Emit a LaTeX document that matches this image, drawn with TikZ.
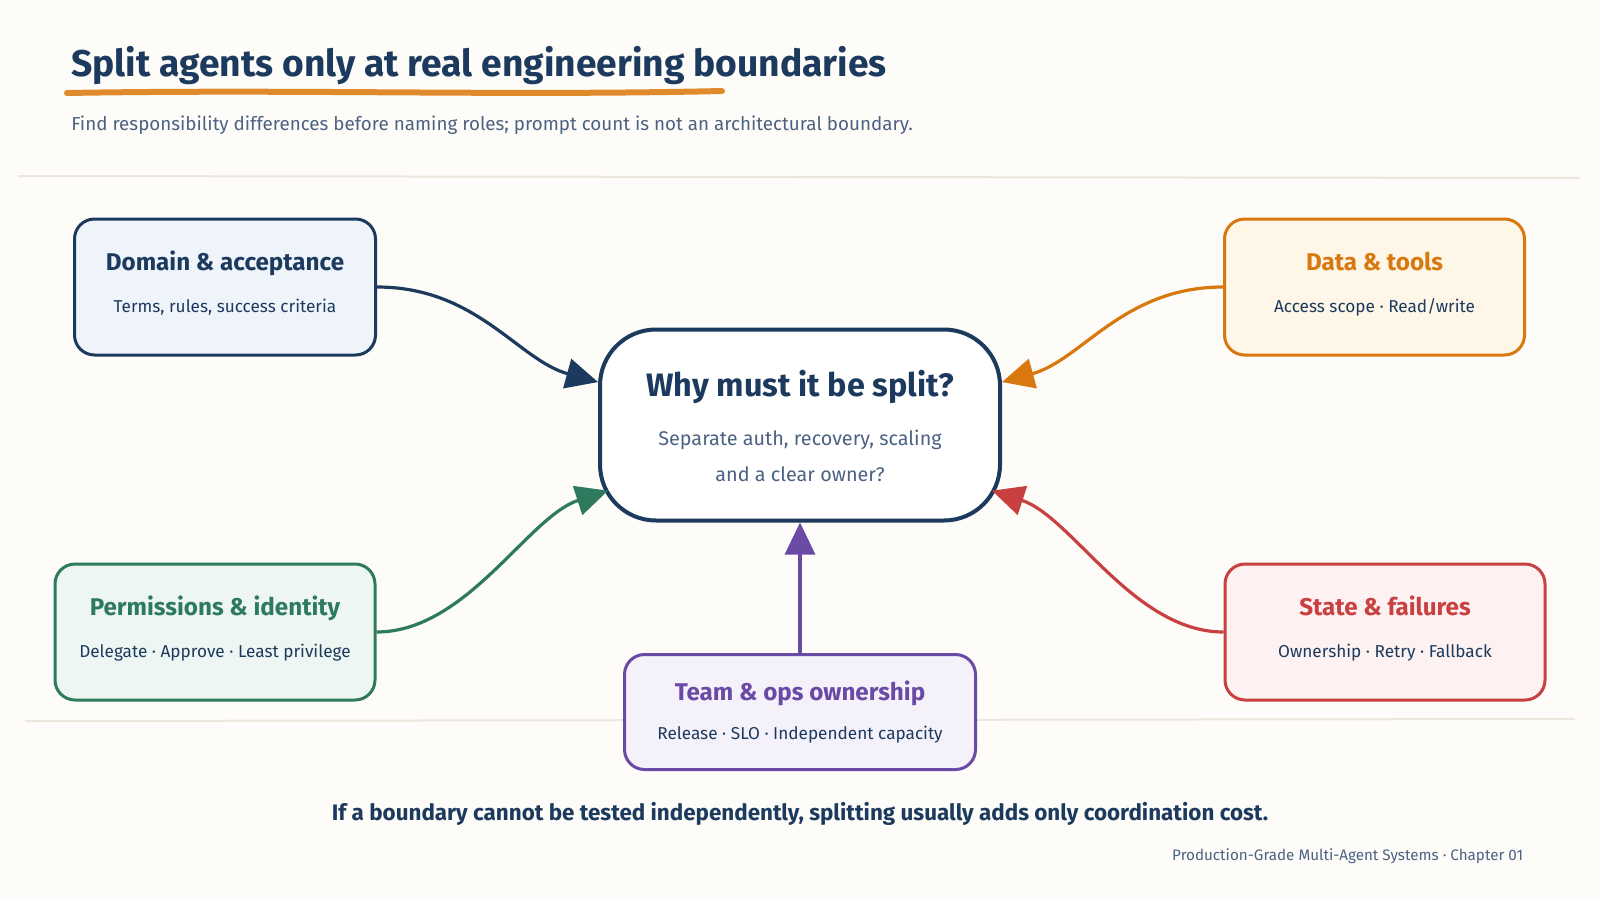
\documentclass[tikz,border=0pt]{standalone}
\usepackage{fontspec}
\setmainfont{Fira Sans}
\usetikzlibrary{arrows.meta,positioning}

\definecolor{paper}{HTML}{FDFCF8}
\definecolor{ink}{HTML}{1C3A5E}
\definecolor{slate}{HTML}{4D6283}
\definecolor{rulegray}{HTML}{ECE7DD}
\definecolor{brushC}{HTML}{E08B2B}
\definecolor{navyC}{HTML}{1C3A5E}
\definecolor{navyF}{HTML}{EFF4FB}
\definecolor{orangeC}{HTML}{D9780F}
\definecolor{orangeF}{HTML}{FEF6E7}
\definecolor{greenC}{HTML}{2E7A5E}
\definecolor{greenF}{HTML}{EEF6F3}
\definecolor{purpleC}{HTML}{6A4AA5}
\definecolor{purpleF}{HTML}{F4F1FB}
\definecolor{redC}{HTML}{C8403F}
\definecolor{redF}{HTML}{FDF1F1}

\begin{document}
\begin{tikzpicture}[x=0.5pt,y=-0.5pt,
    card/.style={draw=#1, line width=1.5pt, rounded corners=10pt,
        minimum height=68pt, inner sep=0pt},
    hub/.style={draw=ink, fill=white, line width=2pt, rounded corners=28pt,
        minimum width=200pt, minimum height=95.5pt, inner sep=0pt},
    headline/.style={anchor=base, inner sep=0pt, text=#1,
        font=\bfseries\fontsize{12.1}{14}\selectfont},
    detail/.style={anchor=base, inner sep=0pt, text=ink,
        font=\fontsize{8.6}{10}\selectfont},
    hubnote/.style={anchor=base, inner sep=0pt, text=slate,
        font=\fontsize{9.9}{12}\selectfont},
    link/.style={draw=#1, line width=1.6pt,
        -{Triangle[length=16pt,width=15pt]}},
    rule/.style={draw=rulegray, line width=1pt}
]
    \fill[paper] (0,0) rectangle (1600,900);
    \useasboundingbox (0,0) rectangle (1600,900);

    % header
    \node[anchor=base west, inner sep=0pt, text=ink,
        font=\bfseries\fontsize{18.6}{22}\selectfont]
        (title) at (71,76.5) {Split agents only at real engineering boundaries};
    \draw[brushC, line width=3pt, line cap=round]
        (67,93) .. controls (300,89) and (500,96) .. (722,91);
    \node[anchor=base west, inner sep=0pt, text=slate,
        font=\fontsize{9.4}{11}\selectfont]
        (subtitle) at (71,130) {Find responsibility differences before naming roles; prompt count is not an architectural boundary.};

    \draw[rule] (18,176) -- (1580,178);
    \draw[rule] (25,721) -- (1575,719);

    % centre
    \node[hub] (why) at (800,425) {};
    \node[anchor=base, inner sep=0pt, text=ink,
        font=\bfseries\fontsize{16.2}{19}\selectfont]
        (why-t) at ([yshift=14.5pt]why.center) {Why must it be split?};
    \node[hubnote] (why-s1) at ([yshift=-10pt]why.center) {Separate auth, recovery, scaling};
    \node[hubnote] (why-s2) at ([yshift=-28.25pt]why.center) {and a clear owner?};

    % boundaries
    \node[card=navyC, fill=navyF, minimum width=150.5pt] (domain) at (225,287) {};
    \node[headline=navyC] (domain-t) at ([yshift=8.5pt]domain.center) {Domain \& acceptance};
    \node[detail] (domain-s) at ([yshift=-12.5pt]domain.center) {Terms, rules, success criteria};

    \node[card=orangeC, fill=orangeF, minimum width=150pt] (data) at (1374.5,287) {};
    \node[headline=orangeC] (data-t) at ([yshift=8.5pt]data.center) {Data \& tools};
    \node[detail] (data-s) at ([yshift=-12.5pt]data.center) {Access scope · Read/write};

    \node[card=greenC, fill=greenF, minimum width=160pt] (perm) at (215,632) {};
    \node[headline=greenC] (perm-t) at ([yshift=8.5pt]perm.center) {Permissions \& identity};
    \node[detail] (perm-s) at ([yshift=-12.5pt]perm.center) {Delegate · Approve · Least privilege};

    \node[card=redC, fill=redF, minimum width=160pt] (state) at (1385,632) {};
    \node[headline=redC] (state-t) at ([yshift=8.5pt]state.center) {State \& failures};
    \node[detail] (state-s) at ([yshift=-12.5pt]state.center) {Ownership · Retry · Fallback};

    \node[card=purpleC, fill=purpleF, minimum width=175.5pt, minimum height=57.5pt] (team) at (800,712) {};
    \node[headline=purpleC] (team-t) at ([yshift=6pt]team.center) {Team \& ops ownership};
    \node[detail] (team-s) at ([yshift=-13.5pt]team.center) {Release · SLO · Independent capacity};

    % links into the question
    \draw[link=navyC] (domain.east) .. controls +(100,0) and +(-80,-22) .. (why.168);
    \draw[link=orangeC] (data.west) .. controls +(-100,0) and +(80,-22) .. (why.12);
    \draw[link=greenC] (perm.east) .. controls +(90,0) and +(-80,26) .. ([xshift=5pt]why.198);
    \draw[link=redC] (state.west) .. controls +(-90,0) and +(80,26) .. ([xshift=-5pt]why.-18);
    \draw[link=purpleC] (team.north) -- (why.south);

    % footer
    \node[anchor=base, inner sep=0pt, text=ink,
        font=\bfseries\fontsize{11.2}{13}\selectfont]
        (moral) at (800,820.5) {If a boundary cannot be tested independently, splitting usually adds only coordination cost.};
    \node[anchor=base east, inner sep=0pt, text=slate,
        font=\fontsize{7.6}{9}\selectfont]
        (credit) at (1523.5,860) {Production-Grade Multi-Agent Systems · Chapter 01};
\end{tikzpicture}
\end{document}
